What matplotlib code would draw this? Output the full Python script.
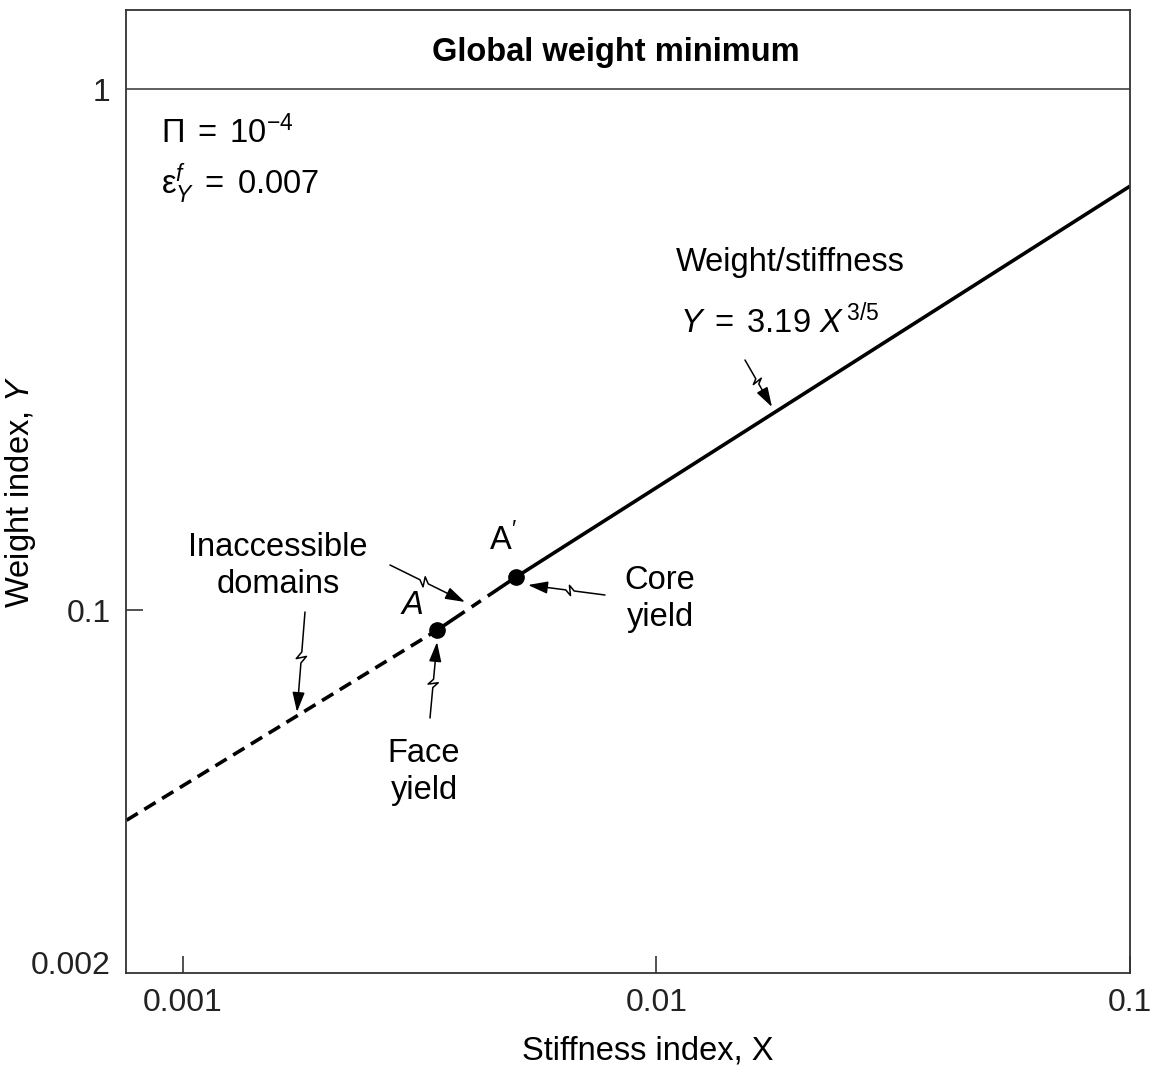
import numpy as np
import matplotlib.pyplot as plt
from matplotlib.patches import FancyArrowPatch
from matplotlib.path import Path

plt.rcParams['font.family'] = ['Liberation Sans', 'DejaVu Sans']
plt.rcParams['mathtext.fontset'] = 'custom'
plt.rcParams['mathtext.rm'] = 'Liberation Sans'
plt.rcParams['mathtext.it'] = 'Liberation Sans:italic'
plt.rcParams['lines.scale_dashes'] = False

# weight/stiffness line (X, Y)
line_x = [0.00076, 0.00344, 0.00505, 0.1]
line_y = [0.0395, 0.0915, 0.1157, 0.651]
# points A (face yield) and A' (core yield)
pts_x = [0.00344, 0.00505]
pts_y = [0.0915, 0.1157]

xticks = [0.001, 0.01, 0.1]
xtick_labels = ['0.001', '0.01', '0.1']
yticks = [1, 0.1, 0.0211]
ytick_labels = ['1', '0.1', '0.002']

W, H = 1161, 1072
FS = 23.5
fig = plt.figure(figsize=(W / 100, H / 100), dpi=100)
ax = fig.add_axes([126 / W, 1 - 973 / H, 1004 / W, 963 / H])


def frac(px, py):
    # pixel position on the picture -> figure fraction
    return px / W, 1 - py / H


def wavy_arrow(start, end):
    x0, y0 = start
    x1, y1 = end
    dx, dy = x1 - x0, y1 - y0
    L = np.hypot(dx, dy)
    ux, uy = dx / L, dy / L
    nx, ny = -uy, ux
    steps = [(0, 0), (0.40, 0), (0.47, 5), (0.44, -5), (0.51, 0), (1, 0)]
    verts = [frac(x0 + t * dx + o * nx, y0 + t * dy + o * ny) for t, o in steps]
    codes = [Path.MOVETO] + [Path.LINETO] * (len(verts) - 1)
    arr = FancyArrowPatch(path=Path(verts, codes), transform=fig.transFigure,
                          arrowstyle='-|>,head_length=0.8,head_width=0.25',
                          mutation_scale=15, lw=1.1, color='black',
                          joinstyle='round', capstyle='round')
    fig.patches.append(arr)


ax.plot(line_x[0:2], line_y[0:2], color='black', lw=2.6,
        linestyle=(0, (9.5, 5.5)))
ax.plot(line_x[1:3], line_y[1:3], color='black', lw=2.6,
        linestyle=(0, (24, 6, 8, 6, 100, 1)))
ax.plot(line_x[2:4], line_y[2:4], color='black', lw=2.6, solid_capstyle='butt')
ax.plot(pts_x, pts_y, 'o', color='black', ms=11, zorder=5)

ax.axhline(1, color='#333333', lw=1.1)

ax.set_xscale('log')
ax.set_yscale('log')
ax.set_xlim(0.000758, 0.1)
ax.set_ylim(0.02011, 1.418)
ax.set_xticks(xticks)
ax.set_xticklabels(xtick_labels)
ax.set_yticks(yticks)
ax.set_yticklabels(ytick_labels)
ax.minorticks_off()
ax.tick_params(axis='both', direction='in', length=12, width=1.1,
               labelsize=23, colors='#222222')
ax.tick_params(axis='x', pad=11)
ax.tick_params(axis='y', pad=11)
yt = ax.yaxis.get_major_ticks()
yt[0].tick1line.set_visible(False)
yt[2].tick1line.set_visible(False)
for s in ax.spines.values():
    s.set_color('#333333')
    s.set_linewidth(1.3)

ax.set_xlabel('Stiffness index, X', fontsize=FS)
ax.xaxis.set_label_coords(0.52, -0.065)
ax.set_ylabel('Weight index, $Y$', fontsize=FS)
ax.yaxis.set_label_coords(-0.088, 0.5)

fig.text(*frac(616, 53), 'Global weight minimum', fontsize=FS,
         fontweight='bold', ha='center', va='center')
fig.text(*frac(161, 133), r'$\Pi\;=\;10^{-4}$', fontsize=FS, ha='left', va='center')
fig.text(*frac(161, 184), r'$\mathrm{\varepsilon}^{f}_{Y}\;=\;0.007$', fontsize=FS,
         ha='left', va='center')
fig.text(*frac(790, 263), 'Weight/stiffness', fontsize=FS, ha='center', va='center')
fig.text(*frac(780, 322), r'$Y\;=\;3.19\ X^{\,3/5}$', fontsize=FS,
         ha='center', va='center')
fig.text(*frac(278, 566), 'Inaccessible\ndomains', fontsize=FS,
         ha='center', va='center', linespacing=1.25)
fig.text(*frac(412, 606), 'A', fontsize=FS, style='italic', ha='center', va='center')
fig.text(*frac(503, 540), "A$'$", fontsize=FS, ha='center', va='center')
fig.text(*frac(660, 599), 'Core\nyield', fontsize=FS, ha='center', va='center',
         linespacing=1.25)
fig.text(*frac(424, 772), 'Face\nyield', fontsize=FS, ha='center', va='center',
         linespacing=1.25)

wavy_arrow((745, 360), (772, 407))
wavy_arrow((305, 612), (297, 712))
wavy_arrow((390, 565), (465, 602))
wavy_arrow((605, 595), (528, 585))
wavy_arrow((430, 718), (437, 642))

fig.savefig('out.png', dpi=100)
